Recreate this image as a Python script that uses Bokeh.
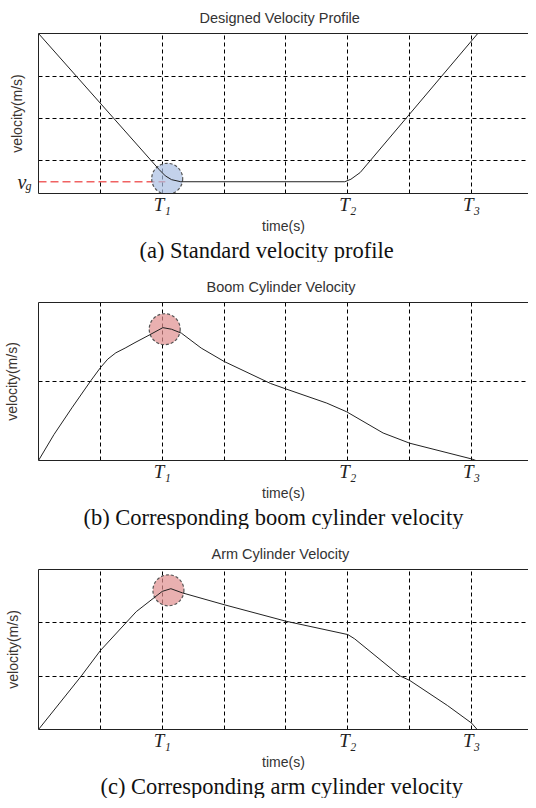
from bokeh.plotting import figure
from bokeh.models import Range1d, FixedTicker, LinearAxis, Title
from bokeh.layouts import column
from bokeh.embed import file_html
from bokeh.resources import INLINE

# ---- data (time in grid divisions, velocity in grid units) ----
t_ticks = [2, 5, 7]
t_labels = ["T\u2081", "T\u2082", "T\u2083"]
grid_x = [1, 2, 3, 4, 5, 6, 7]

time_a = [0, 1.95, 2.05, 2.15, 2.3, 4.95, 5.05, 5.2, 7.1]
vel_a = [4.03, 0.79, 0.64, 0.55, 0.5, 0.5, 0.56, 0.72, 4.03]
vg_value = 0.5
vg_line_x = [0, 2.05]
mark_a = (2.08, 0.57)

time_b = [0, 0.25, 0.54, 0.85, 1.0, 1.12, 1.25, 1.4, 1.56, 1.8, 2.01, 2.15,
          2.31, 2.63, 3.0, 3.75, 4.0, 4.66, 4.98, 5.57, 6.0, 7.0, 7.07]
vel_b = [0, 0.33, 0.67, 1.02, 1.18, 1.29, 1.37, 1.43, 1.5, 1.6, 1.69, 1.67,
         1.62, 1.43, 1.26, 0.98, 0.91, 0.73, 0.62, 0.35, 0.22, 0.02, 0]
mark_b = (2.04, 1.67)

time_c = [0, 0.69, 1.0, 1.58, 2.0, 2.14, 2.33, 3.0, 4.0, 5.0, 5.11, 5.85,
          6.0, 6.61, 7.0, 7.09]
vel_c = [0, 1.0, 1.48, 2.21, 2.59, 2.64, 2.56, 2.34, 2.03, 1.78, 1.70, 1.0,
         0.92, 0.45, 0.12, 0]
mark_c = (2.1, 2.61)

SANS = "Liberation Sans"
SERIF = "Liberation Serif"


def no_ticks(ax):
    ax.major_tick_out = 0
    ax.major_tick_in = 0
    ax.minor_tick_out = 0
    ax.minor_tick_in = 0
    ax.axis_line_color = "#222222"


def ylabel(ax, standoff):
    ax.axis_label = "velocity(m/s)"
    ax.axis_label_text_font = SANS
    ax.axis_label_text_font_size = "14px"
    ax.axis_label_text_font_style = "normal"
    ax.axis_label_text_color = "#3a3430"
    ax.axis_label_standoff = standoff


def panel(title, caption, ymin, ymax, ygrid, height, left, ylab_standoff,
          title_off, cap_off, xs, ys, mark, mark_color):
    p = figure(width=528, height=height, x_range=Range1d(0, 7.92),
               y_range=Range1d(ymin, ymax), output_backend="svg",
               toolbar_location=None, min_border_left=left,
               min_border_right=0, min_border_top=0, min_border_bottom=0,
               title=title)
    p.outline_line_color = None
    p.title.align = "left"
    p.title.text_font = SANS
    p.title.text_font_size = "14.5px"
    p.title.text_font_style = "normal"
    p.title.text_color = "#333333"
    p.title.offset = title_off
    p.title.standoff = 15

    xa = p.below[0]
    xa.ticker = FixedTicker(ticks=t_ticks)
    xa.major_label_overrides = {t: s for t, s in zip(t_ticks, t_labels)}
    xa.major_label_text_font = SERIF
    xa.major_label_text_font_style = "italic"
    xa.major_label_text_font_size = "19px"
    xa.major_label_text_color = "#222222"
    xa.major_label_standoff = 0
    no_ticks(xa)
    xa.axis_label = "time(s)"
    xa.axis_label_text_font = SANS
    xa.axis_label_text_font_size = "14px"
    xa.axis_label_text_font_style = "normal"
    xa.axis_label_text_color = "#333333"
    xa.axis_label_standoff = 0

    ya = p.left[0]
    ya.ticker = FixedTicker(ticks=[])
    ya.major_label_text_font_size = "0px"
    no_ticks(ya)
    if ylab_standoff is not None:
        ylabel(ya, ylab_standoff)

    top = LinearAxis(ticker=FixedTicker(ticks=[]),
                     major_label_text_font_size="0px")
    no_ticks(top)
    p.add_layout(top, "above")

    p.xgrid.ticker = FixedTicker(ticks=grid_x)
    p.ygrid.ticker = FixedTicker(ticks=ygrid)
    for g in (p.xgrid[0], p.ygrid[0]):
        g.grid_line_color = "black"
        g.grid_line_dash = "4 3"
        g.grid_line_width = 1
        g.grid_line_alpha = 1

    cap = Title(text=caption, align="left", text_font=SERIF,
                text_font_size="22.5px", text_font_style="normal",
                text_color="#111111", offset=cap_off, standoff=-1)
    p.add_layout(cap, "below")

    p.scatter([mark[0]], [mark[1]], size=31, fill_color=mark_color,
              fill_alpha=0.7, line_color="#555555", line_dash="3 2",
              line_width=1.2)
    p.line(xs, ys, line_color="#222222", line_width=1)
    return p


pa = panel("Designed Velocity Profile", "(a) Standard velocity profile",
           0.22, 4.03, [1, 2, 3], 262, 31, None, 161, 101,
           time_a, vel_a, mark_a, "#a9bfe2")
pa.line(vg_line_x, [vg_value, vg_value], line_color="#f06262",
        line_dash="8 4", line_width=1.4, level="underlay")
# inner left axis carries the subscript "g", outer one the italic "v"
g_tick = vg_value - 0.1
ya_in = pa.left[0]
ya_in.ticker = FixedTicker(ticks=[g_tick])
ya_in.major_label_overrides = {g_tick: "g"}
ya_in.major_label_text_font = SERIF
ya_in.major_label_text_font_style = "italic"
ya_in.major_label_text_font_size = "12px"
ya_in.major_label_text_color = "#222222"
ya_in.major_label_text_baseline = "middle"
ya_in.major_label_standoff = 7
ya_out = LinearAxis(ticker=FixedTicker(ticks=[vg_value]),
                    major_label_overrides={vg_value: "v"},
                    major_label_text_font=SERIF,
                    major_label_text_font_style="italic",
                    major_label_text_font_size="20px",
                    major_label_text_color="#222222",
                    major_label_text_baseline="middle",
                    major_label_standoff=-4)
no_ticks(ya_out)
ya_out.axis_line_color = None
ylabel(ya_out, -10)
pa.add_layout(ya_out, "left")

pb = panel("Boom Cylinder Velocity", "(b) Corresponding boom cylinder velocity",
           0, 2.01, [1], 260, 35, 19, 168, 45,
           time_b, vel_b, mark_b, "#e08f8f")

pc = panel("Arm Cylinder Velocity", "(c) Corresponding arm cylinder velocity",
           0, 3.0, [1, 2], 262, 34, 18, 173, 62,
           time_c, vel_c, mark_c, "#e08f8f")

layout = column(pa, pb, pc, spacing=7)
open("out.html", "w").write(file_html(layout, INLINE))
